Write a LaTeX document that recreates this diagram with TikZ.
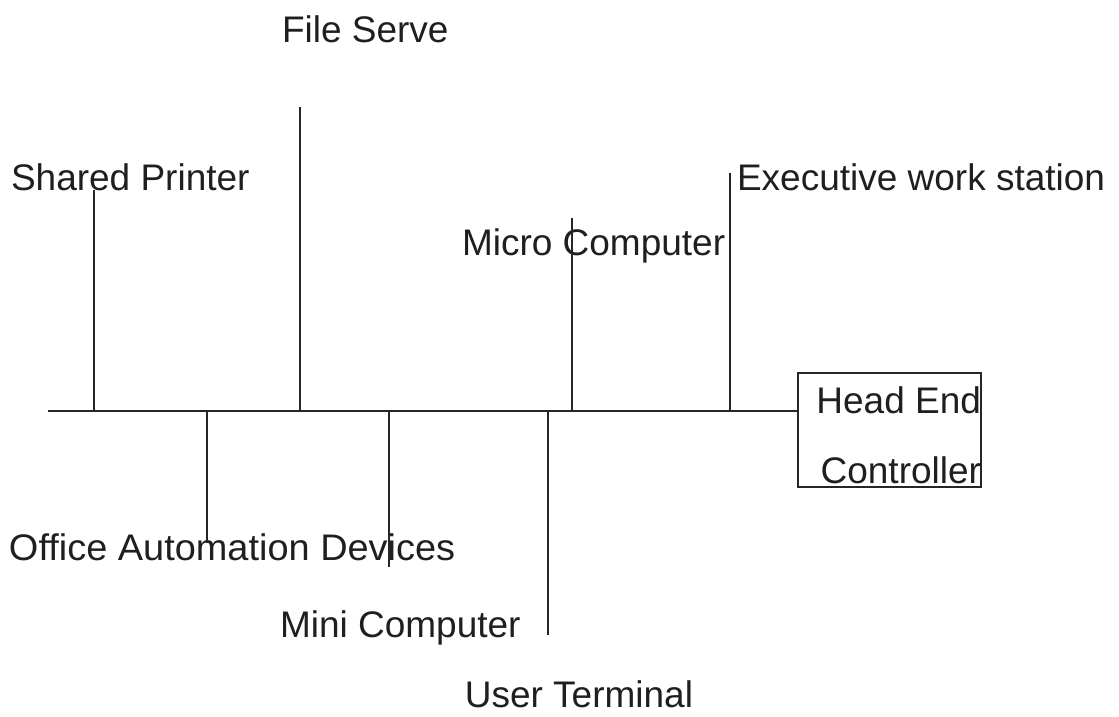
\documentclass[tikz,border=0pt]{standalone}
\usepackage{fontspec}
\setmainfont{Liberation Sans}
\begin{document}
\begin{tikzpicture}[x=1pt,y=-1pt,
  lbl/.style={inner sep=0pt, outer sep=0pt, font=\fontsize{37}{44}\selectfont, text=black!88},
  wire/.style={line width=1.3pt, draw=black!85},
  hebox/.style={draw=black!85, line width=1.3pt, minimum width=183pt, minimum height=114pt, inner sep=0pt}]
\useasboundingbox (0,0) rectangle (1119,716);
% labels
\node[lbl, anchor=base west] (sp) at (11,190) {Shared Printer};
\node[lbl, anchor=base west] (fs) at (282,42) {File Serve};
\node[lbl, anchor=base west] (mc) at (462,255) {Micro Computer};
\node[lbl, anchor=base west] (ew) at (737,190) {Executive work station};
\node[lbl, anchor=base west, xscale=1.025] (oa) at (9,560) {Office Automation Devices};
\node[lbl, anchor=base west] (mn) at (280,637) {Mini Computer};
\node[lbl, anchor=base east, text depth=0pt] (ut) at (693,707) {User Terminal};
% head end controller
\node[hebox] (hec) at (889.5,430) {};
\node[lbl, anchor=base east] (he1) at (981,413) {Head End};
\node[lbl, anchor=base east] (he2) at (981,483) {Controller};
% bus taps
\coordinate (busL) at (48,411);
\coordinate (busR) at (hec.west |- busL);
\coordinate (tSP) at (94,411);   \coordinate (eSP) at (94,190);
\coordinate (tFS) at (300,411);  \coordinate (eFS) at (300,107);
\coordinate (tOA) at (207,411);  \coordinate (eOA) at (207,543);
\coordinate (tMN) at (389,411);  \coordinate (eMN) at (389,567);
\coordinate (tUT) at (548,411);  \coordinate (eUT) at (548,635);
\coordinate (tMC) at (572,411);  \coordinate (eMC) at (572,218);
\coordinate (tEW) at (730,411);  \coordinate (eEW) at (730,173);
\draw[wire] (busL) -- (busR);
\draw[wire] (tSP) -- (eSP);
\draw[wire] (tFS) -- (eFS);
\draw[wire] (tOA) -- (eOA);
\draw[wire] (tMN) -- (eMN);
\draw[wire] (tUT) -- (eUT);
\draw[wire] (tMC) -- (eMC);
\draw[wire] (tEW) -- (eEW);
\end{tikzpicture}
\end{document}
